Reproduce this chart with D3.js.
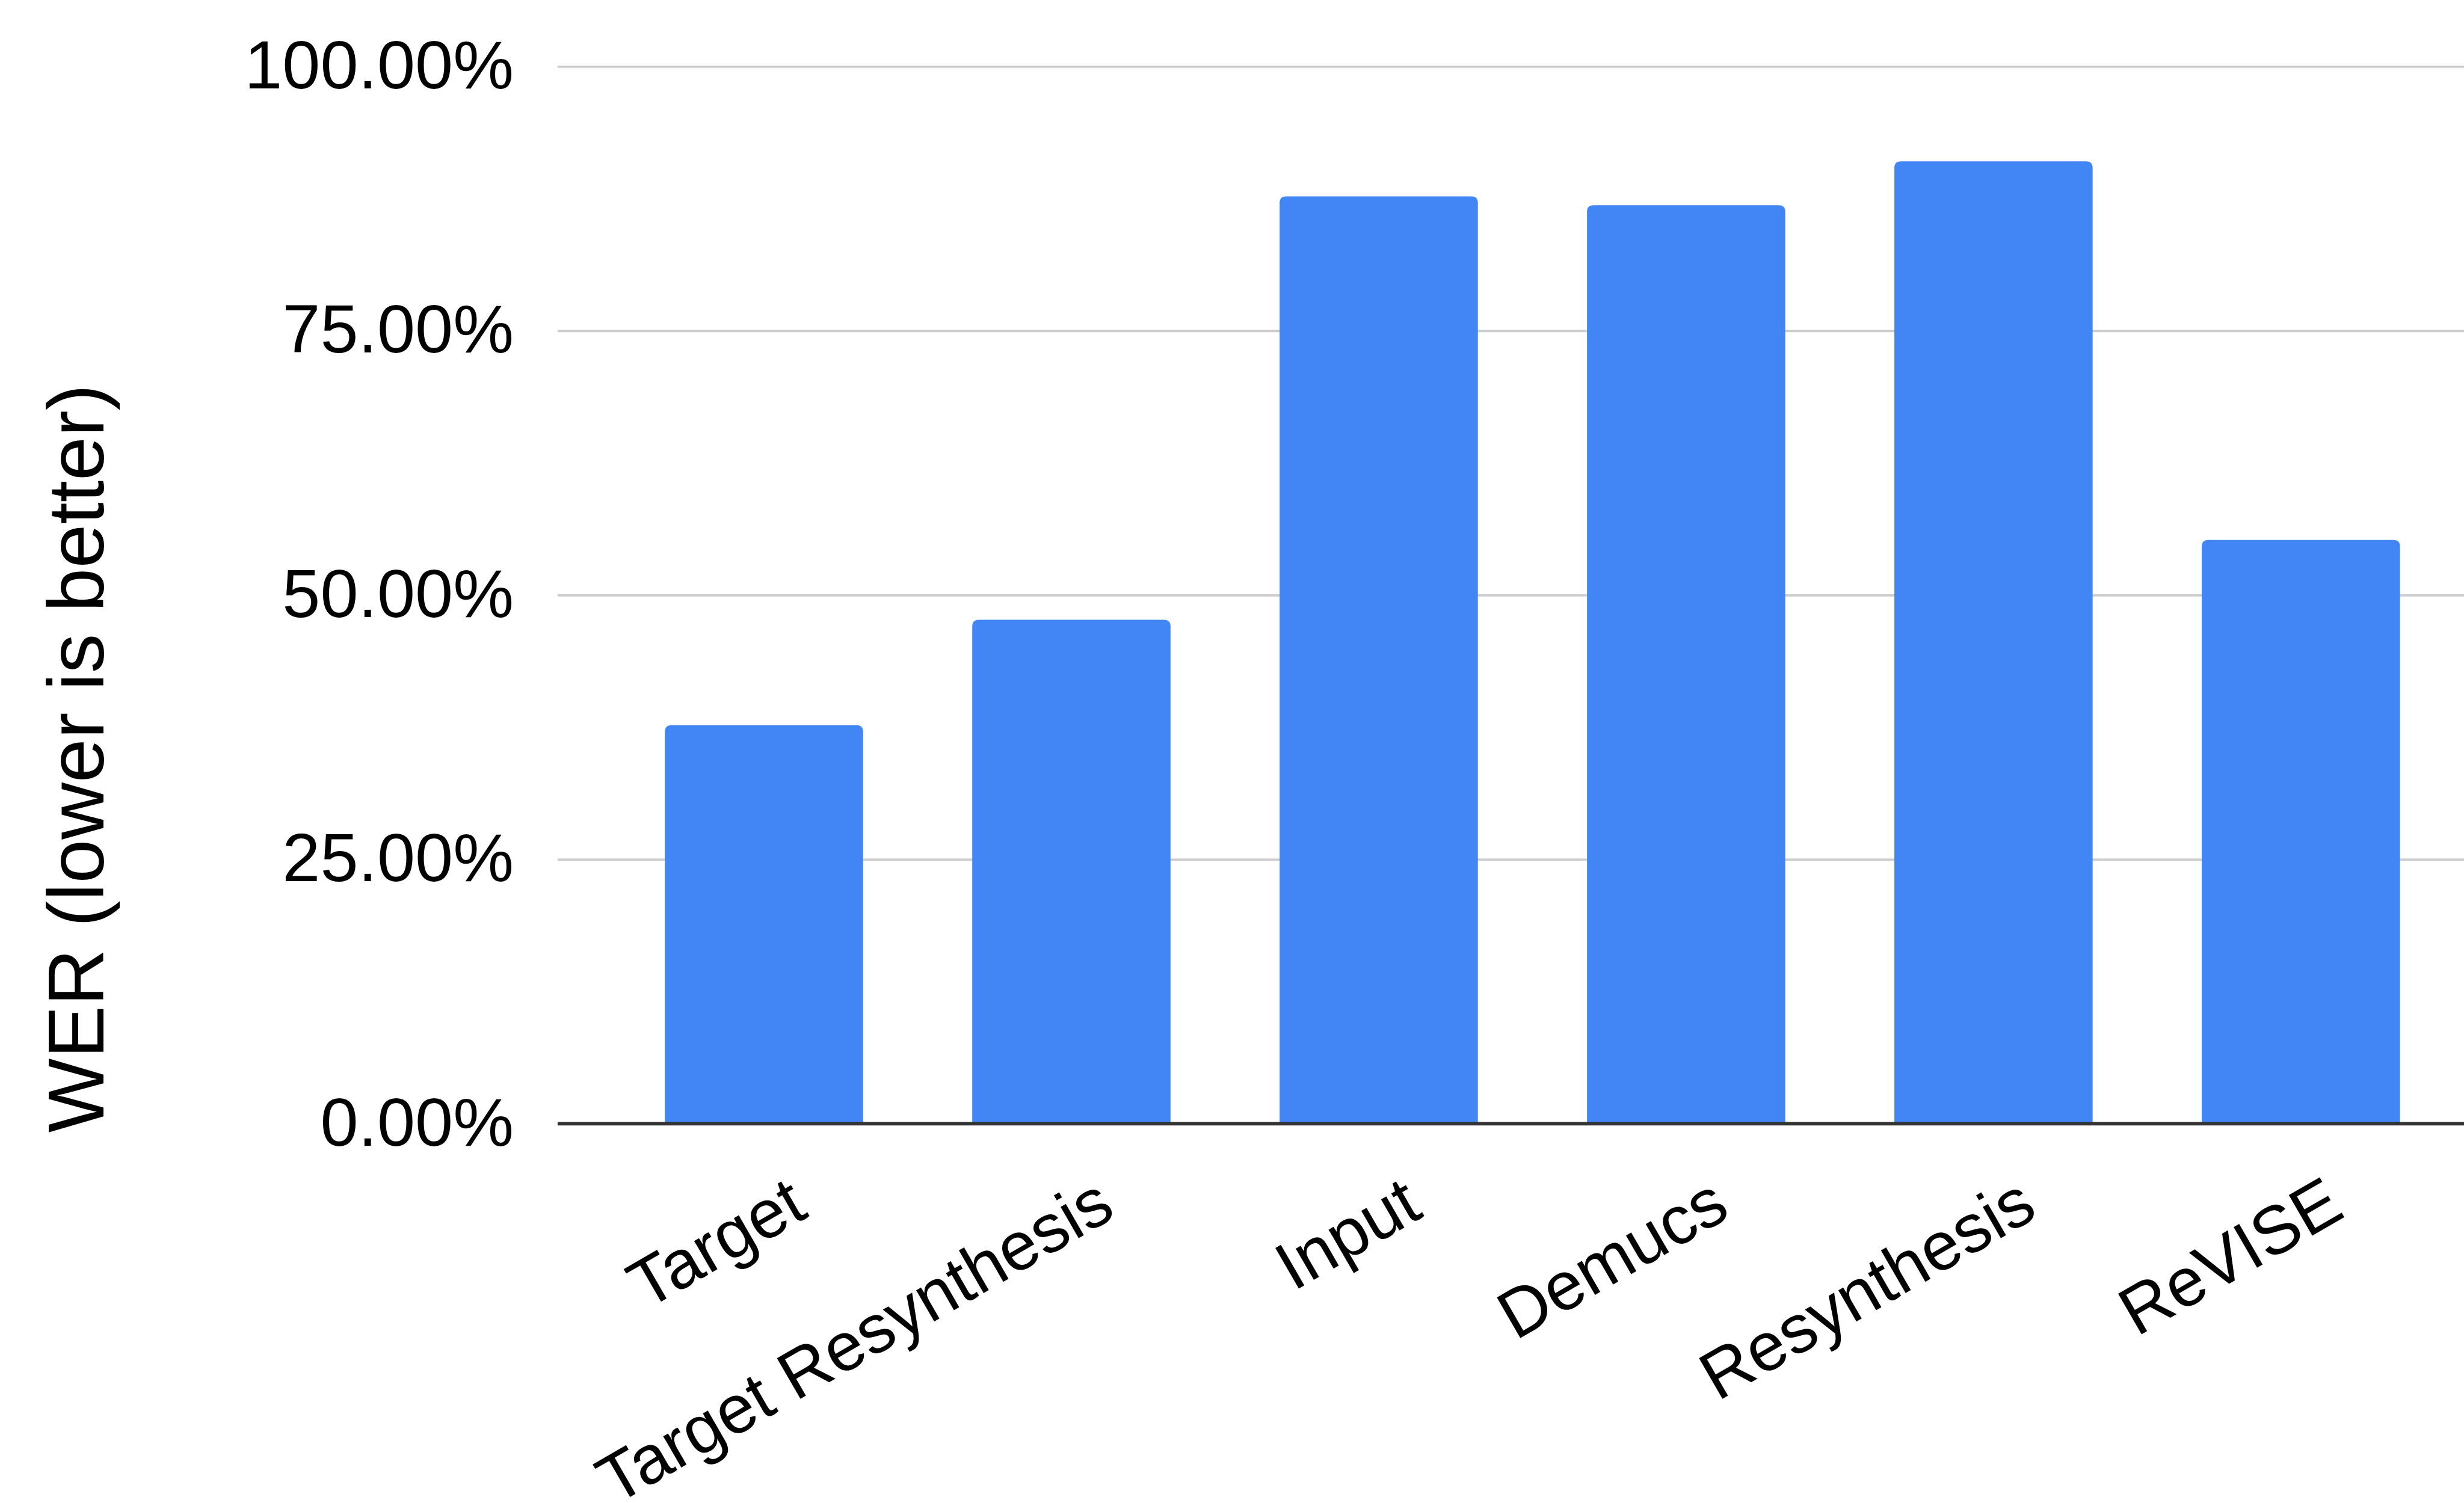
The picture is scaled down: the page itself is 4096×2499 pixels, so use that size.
<!DOCTYPE html>
<html>
<head>
<meta charset="utf-8">
<script src="https://cdn.jsdelivr.net/npm/d3@7"></script>
<style>
  html, body { margin: 0; padding: 0; background: #ffffff; overflow: hidden; }
  svg { display: block; }
</style>
</head>
<body>
<script>
// ---- data ----
const categories = ["Target", "Target Resynthesis", "Input", "Demucs", "Resynthesis", "ReVISE"];
const werValues = [0.3770, 0.4767, 0.8772, 0.8687, 0.9103, 0.5522];
const yTickValues = [0, 0.25, 0.5, 0.75, 1.0];
const yTitle = "WER (lower is better)";

// ---- layout (reference pixel space, scaled via viewBox) ----
const REF_W = 4441, REF_H = 2709;
const OUT_W = 4096, OUT_H = 2499;
const plotLeft = 1005, plotRight = REF_W;
const yBottom = 2025.5, yTop = 119.6;
const step = 554, firstCenter = 1377;
const font = "'Liberation Sans', Arial, Helvetica, sans-serif";

const svg = d3.select("body").append("svg")
  .attr("width", OUT_W).attr("height", OUT_H)
  .attr("viewBox", `0 0 ${REF_W} ${REF_H}`);

svg.append("rect").attr("width", REF_W).attr("height", REF_H).attr("fill", "#ffffff");

const y = d3.scaleLinear().domain([0, 1]).range([yBottom, yTop]);
const bandStart = firstCenter - step / 2;
const x = d3.scaleBand().domain(categories)
  .range([bandStart, bandStart + step * categories.length])
  .paddingInner(0.355).paddingOuter(0.355 / 2);

// gridlines + y tick labels via axis
const yAxis = d3.axisLeft(y).tickValues(yTickValues)
  .tickFormat(d3.format(".2%"))
  .tickSize(-(plotRight - plotLeft)).tickPadding(79);
const gy = svg.append("g").attr("transform", `translate(${plotLeft},0)`).call(yAxis);
gy.select(".domain").remove();
gy.selectAll(".tick line").attr("stroke", "#cccccc").attr("stroke-width", 4);
gy.selectAll(".tick text")
  .attr("font-family", font).attr("font-size", 123).attr("fill", "#000000")
  .attr("dy", "0.317em");

// bars with rounded top corners
const r = 12;
function barPath(d, i) {
  const x0 = x(categories[i]), w = x.bandwidth();
  const yt = y(d), yb = y(0);
  return `M${x0},${yb} L${x0},${yt + r} Q${x0},${yt} ${x0 + r},${yt} L${x0 + w - r},${yt} Q${x0 + w},${yt} ${x0 + w},${yt + r} L${x0 + w},${yb} Z`;
}
svg.append("g").selectAll("path").data(werValues).join("path")
  .attr("d", barPath)
  .attr("fill", "#4285f4");

// x axis (baseline + slanted labels)
const xAxis = d3.axisBottom(x).tickSize(0).tickPadding(0);
const gx = svg.append("g").attr("transform", `translate(0,${y(0)})`).call(xAxis);
gx.select(".domain").remove();
gx.append("line")
  .attr("x1", plotLeft).attr("x2", plotRight)
  .attr("y1", 0).attr("y2", 0)
  .attr("stroke", "#333333").attr("stroke-width", 6);
gx.selectAll(".tick text")
  .attr("font-family", font).attr("font-size", 123).attr("fill", "#000000")
  .attr("x", 0).attr("y", 0).attr("dy", 0)
  .attr("text-anchor", "end")
  .attr("transform", "translate(83,166) rotate(-30)");

// y axis title
svg.append("text")
  .attr("transform", `translate(186,1367) rotate(-90)`)
  .attr("text-anchor", "middle")
  .attr("font-family", font).attr("font-size", 142).attr("fill", "#000000")
  .text(yTitle);
</script>
</body>
</html>
